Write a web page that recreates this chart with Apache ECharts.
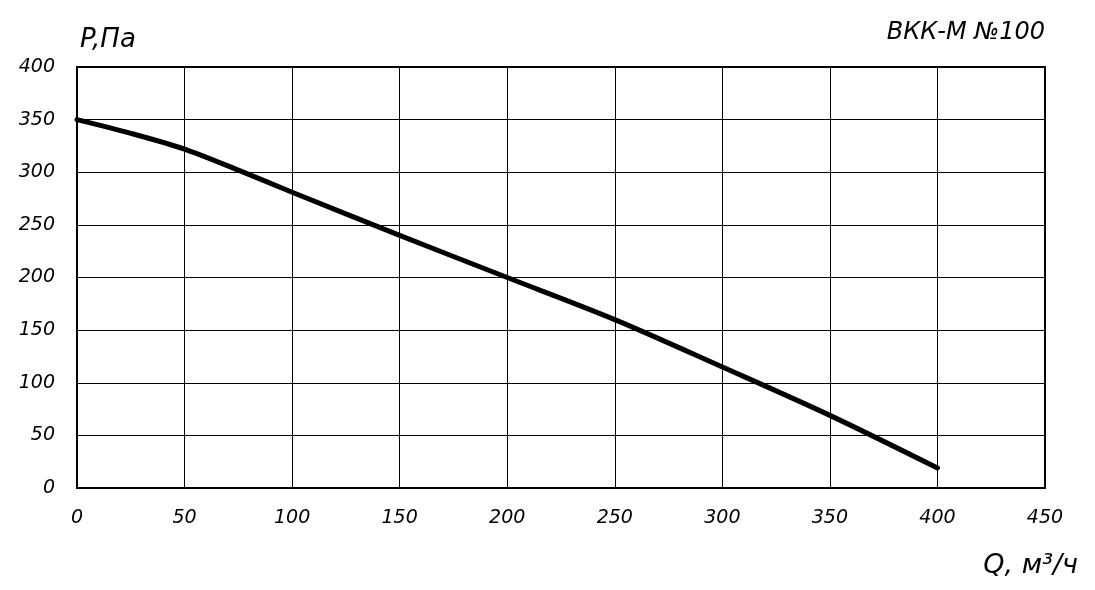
<!DOCTYPE html>
<html><head><meta charset="utf-8">
<script src="https://cdn.jsdelivr.net/npm/echarts@6/dist/echarts.min.js"></script>
<style>html,body{margin:0;padding:0;background:#fff}#c{width:1095px;height:590px}</style>
</head><body><div id="c"></div>
<script>
const qValues = [0, 25, 50, 75, 100, 150, 200, 250, 300, 350, 400];
const pValues = [350, 337, 322, 302, 281, 240, 200, 160, 115, 69, 19];
const xTicks = [0, 50, 100, 150, 200, 250, 300, 350, 400, 450];
const yTicks = [0, 50, 100, 150, 200, 250, 300, 350, 400];
const titleText = 'ВКК-М №100';
const yName = 'P,Па';
const xName = 'Q, м³/ч';

const font = 'DejaVu Sans';
const chart = echarts.init(document.getElementById('c'), null, {renderer: 'canvas'});
chart.setOption({
  animation: false,
  backgroundColor: '#fff',
  grid: {left: 77, right: 50, top: 67, bottom: 102, containLabel: false},
  graphic: [
    {type: 'text', right: 50, top: 21, style: {text: titleText, font: 'italic 24px "' + font + '"', fill: '#000'}},
    {type: 'text', left: 80, top: 27, style: {text: yName, font: 'italic 26px "' + font + '"', fill: '#000'}},
    {type: 'text', right: 17, top: 552, style: {text: xName, font: 'italic 27px "' + font + '"', fill: '#000'}},
    {type: 'rect', shape: {x: 77, y: 67, width: 968, height: 421}, style: {fill: 'none', stroke: '#000', lineWidth: 2}, z: 10}
  ],
  xAxis: {
    type: 'value', min: 0, max: 450, interval: 50,
    axisLine: {show: true, onZero: false, lineStyle: {color: '#000', width: 2}},
    axisTick: {show: false},
    splitLine: {show: true, lineStyle: {color: '#000', width: 1}},
    axisLabel: {margin: 21, color: '#000', fontFamily: font, fontStyle: 'italic', fontSize: 19,
      formatter: v => xTicks.includes(v) ? String(v) : ''}
  },
  yAxis: {
    type: 'value', min: 0, max: 400, interval: 50,
    axisLine: {show: true, onZero: false, lineStyle: {color: '#000', width: 2}},
    axisTick: {show: false},
    splitLine: {show: true, lineStyle: {color: '#000', width: 1}},
    axisLabel: {margin: 22, color: '#000', fontFamily: font, fontStyle: 'italic', fontSize: 19,
      formatter: v => yTicks.includes(v) ? String(v) : ''}
  },
  series: [{
    type: 'line', smooth: 0.3, showSymbol: false,
    data: qValues.map((q, i) => [q, pValues[i]]),
    lineStyle: {color: '#000', width: 5, cap: 'round'}
  }]
});
</script></body></html>
